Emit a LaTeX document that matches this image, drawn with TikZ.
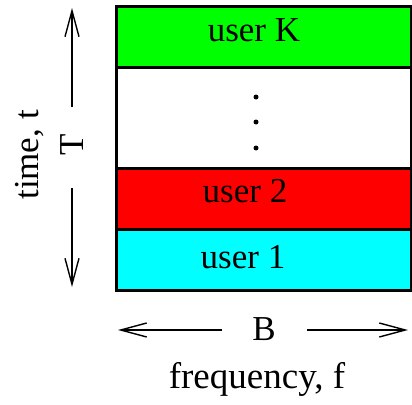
\documentclass[tikz,border=0pt]{standalone}
\usepackage{fontspec}
\setmainfont{Liberation Serif}
\usetikzlibrary{arrows.meta}
\definecolor{bandcyan}{RGB}{0,255,255}
\definecolor{bandred}{RGB}{255,0,0}
\definecolor{bandgreen}{RGB}{0,255,0}
\begin{document}
\begin{tikzpicture}[x=1pt,y=-1pt,
  band/.style={draw=black,line width=3pt,minimum width=295pt,minimum height=61pt,inner sep=0pt,anchor=north west},
  lbl/.style={font=\fontsize{35}{42}\selectfont,inner sep=0pt,anchor=base},
  dimarrow/.style={line width=1.4pt,-{Straight Barb[length=26pt,width=14pt,line width=1.4pt]}},
  dot/.style={circle,fill=black,inner sep=0pt,minimum size=5pt}]
\useasboundingbox (0,0) rectangle (412,404);

% frequency bands, bottom to top
\node[band,fill=bandcyan] (b1) at (115,228) {};
\node[band,fill=bandred] (b2) at (115,167) {};
\node[band,fill=white,minimum height=101pt] (bmid) at (115,66) {};
\node[band,fill=bandgreen] (bK) at (115,5) {};

\node[lbl] (u1) at (243,268) {user 1};
\node[lbl] (u2) at (245,202) {user 2};
\node[lbl] (uK) at (254,42) {user K};

\node[dot] (d1) at (256,97) {};
\node[dot] (d2) at (256,122) {};
\node[dot] (d3) at (256,148) {};

% duration T
\node[lbl,rotate=90] (T) at (83,145) {T};
\node[lbl,rotate=90] (time) at (38,155) {time, t};
\coordinate (Ttop) at (72,8);
\coordinate (Tbot) at (72,287);
\coordinate (Tup) at (72,107);
\coordinate (Tdown) at (72,188);
\draw[dimarrow] (Tup) -- (Ttop);
\draw[dimarrow] (Tdown) -- (Tbot);

% bandwidth B
\node[lbl] (B) at (264,340) {B};
\node[lbl,font=\fontsize{37}{44}\selectfont] (freq) at (257,388) {frequency, f};
\coordinate (Bleft) at (118,330);
\coordinate (Bright) at (408,330);
\coordinate (Bl) at (222,330);
\coordinate (Br) at (307,330);
\draw[dimarrow] (Bl) -- (Bleft);
\draw[dimarrow] (Br) -- (Bright);
\end{tikzpicture}
\end{document}
